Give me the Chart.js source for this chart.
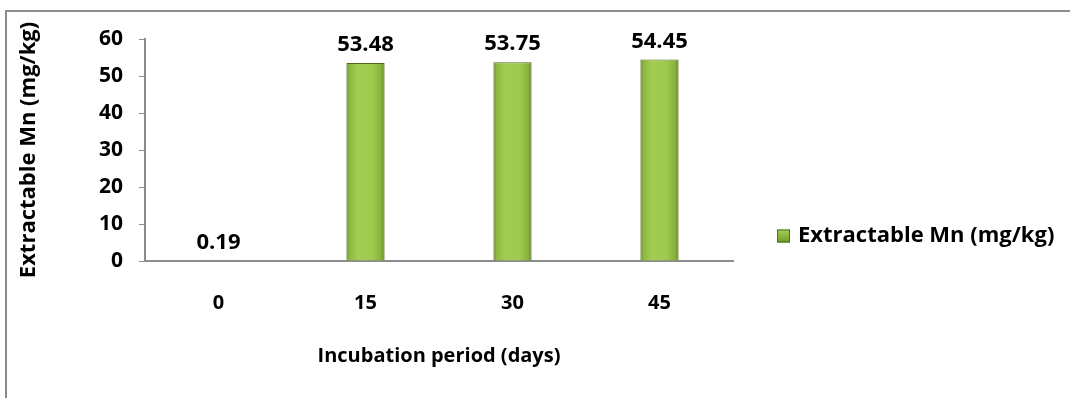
<!DOCTYPE html>
<html>
<head>
<meta charset="utf-8">
<script src="https://cdn.jsdelivr.net/npm/chart.js@4.4.1/dist/chart.umd.min.js"></script>
<style>
  html, body { margin: 0; padding: 0; background: #ffffff; }
  #wrap { position: relative; width: 1070px; height: 398px; overflow: hidden; }
  #frame { position: absolute; left: 5px; top: 10px; width: 1200px; height: 500px;
           border-top: 2px solid #8c8c8c; border-left: 2px solid #8c8c8c; }
  canvas { position: absolute; left: 0; top: 0; }
</style>
</head>
<body>
<div id="wrap">
  <div id="frame"></div>
  <canvas id="chart" width="1070" height="398"></canvas>
</div>
<script>
// Incubation time points and extractable manganese measured at each
const days = ['0', '15', '30', '45'];
const extractableMn = [0.19, 53.48, 53.75, 54.45];
const seriesName = 'Extractable Mn (mg/kg)';
const xTitle = 'Incubation period (days)';
const yTitle = 'Extractable Mn (mg/kg)';

const FONT = '"Open Sans", "Noto Sans", sans-serif';

// Horizontal shading across each bar: darker rims, bright green body
function barFill(ctx) {
  const chart = ctx.chart;
  const xs = chart.scales.x;
  if (!xs || ctx.dataIndex === undefined) return '#9bc64a';
  const cx = xs.getPixelForValue(ctx.dataIndex);
  const half = (xs.width / days.length) * 0.26 / 2;
  if (!isFinite(cx) || !isFinite(half) || half <= 0) return '#9bc64a';
  const g = chart.ctx.createLinearGradient(cx - half, 0, cx + half, 0);
  g.addColorStop(0, '#5f7f1f');
  g.addColorStop(0.08, '#8db83e');
  g.addColorStop(0.3, '#a2cd52');
  g.addColorStop(0.7, '#9dc94d');
  g.addColorStop(0.92, '#86b03a');
  g.addColorStop(1, '#56741b');
  return g;
}

// Value printed above every bar
const valueLabels = {
  id: 'valueLabels',
  afterDatasetsDraw(chart) {
    const c = chart.ctx;
    const meta = chart.getDatasetMeta(0);
    c.save();
    c.font = 'bold 22px ' + FONT;
    c.fillStyle = '#000000';
    c.textAlign = 'center';
    c.textBaseline = 'middle';
    meta.data.forEach((bar, i) => {
      c.fillText(extractableMn[i].toFixed(2), bar.x, bar.y - 18);
    });
    c.restore();
  }
};

// Series key placed to the right of the plot
const sideLegend = {
  id: 'sideLegend',
  afterDraw(chart) {
    const c = chart.ctx;
    const a = chart.chartArea;
    const bx = a.right + 44;
    const cy = 236;
    c.save();
    const g = c.createLinearGradient(0, cy - 7, 0, cy + 7);
    g.addColorStop(0, '#a9d45a');
    g.addColorStop(1, '#6f9527');
    c.fillStyle = g;
    c.fillRect(bx, cy - 6.5, 13, 13);
    c.strokeStyle = '#4f6a18';
    c.lineWidth = 1;
    c.strokeRect(bx + 0.5, cy - 6, 12, 12);
    c.font = 'bold 22px ' + FONT;
    c.fillStyle = '#000000';
    c.textAlign = 'left';
    c.textBaseline = 'middle';
    c.fillText(seriesName, bx + 21, cy);
    c.restore();
  }
};

new Chart(document.getElementById('chart'), {
  type: 'bar',
  data: {
    labels: days,
    datasets: [{
      label: seriesName,
      data: extractableMn,
      backgroundColor: barFill,
      borderColor: '#4f6a18',
      borderWidth: 1,
      barPercentage: 0.52,
      categoryPercentage: 0.5
    }]
  },
  options: {
    responsive: false,
    animation: false,
    layout: { padding: { left: 0, top: 39, right: 337, bottom: 30 } },
    plugins: {
      tooltip: { enabled: false },
      legend: { display: false }
    },
    scales: {
      x: {
        afterFit(scale) { scale.height = 107; },
        grid: { display: false, drawTicks: false },
        border: { color: '#8c8c8c', width: 2 },
        ticks: { color: '#000000', font: { family: FONT, size: 20, weight: 'bold' }, padding: 30 },
        title: {
          display: true,
          text: xTitle,
          color: '#000000',
          font: { family: FONT, size: 20, weight: 'bold' },
          padding: { top: 0, bottom: 0 }
        }
      },
      y: {
        afterFit(scale) { scale.width = 145; },
        min: 0,
        max: 60,
        ticks: { stepSize: 10, color: '#000000', font: { family: FONT, size: 21, weight: 'bold' }, padding: 16 },
        grid: { display: true, drawOnChartArea: false, drawTicks: true, tickLength: 6, color: '#8c8c8c' },
        border: { color: '#8c8c8c', width: 2 },
        title: {
          display: true,
          text: yTitle,
          color: '#000000',
          font: { family: FONT, size: 22, weight: 'bold' },
          padding: { top: 16, bottom: 0 }
        }
      }
    }
  },
  plugins: [valueLabels, sideLegend]
});
</script>
</body>
</html>
